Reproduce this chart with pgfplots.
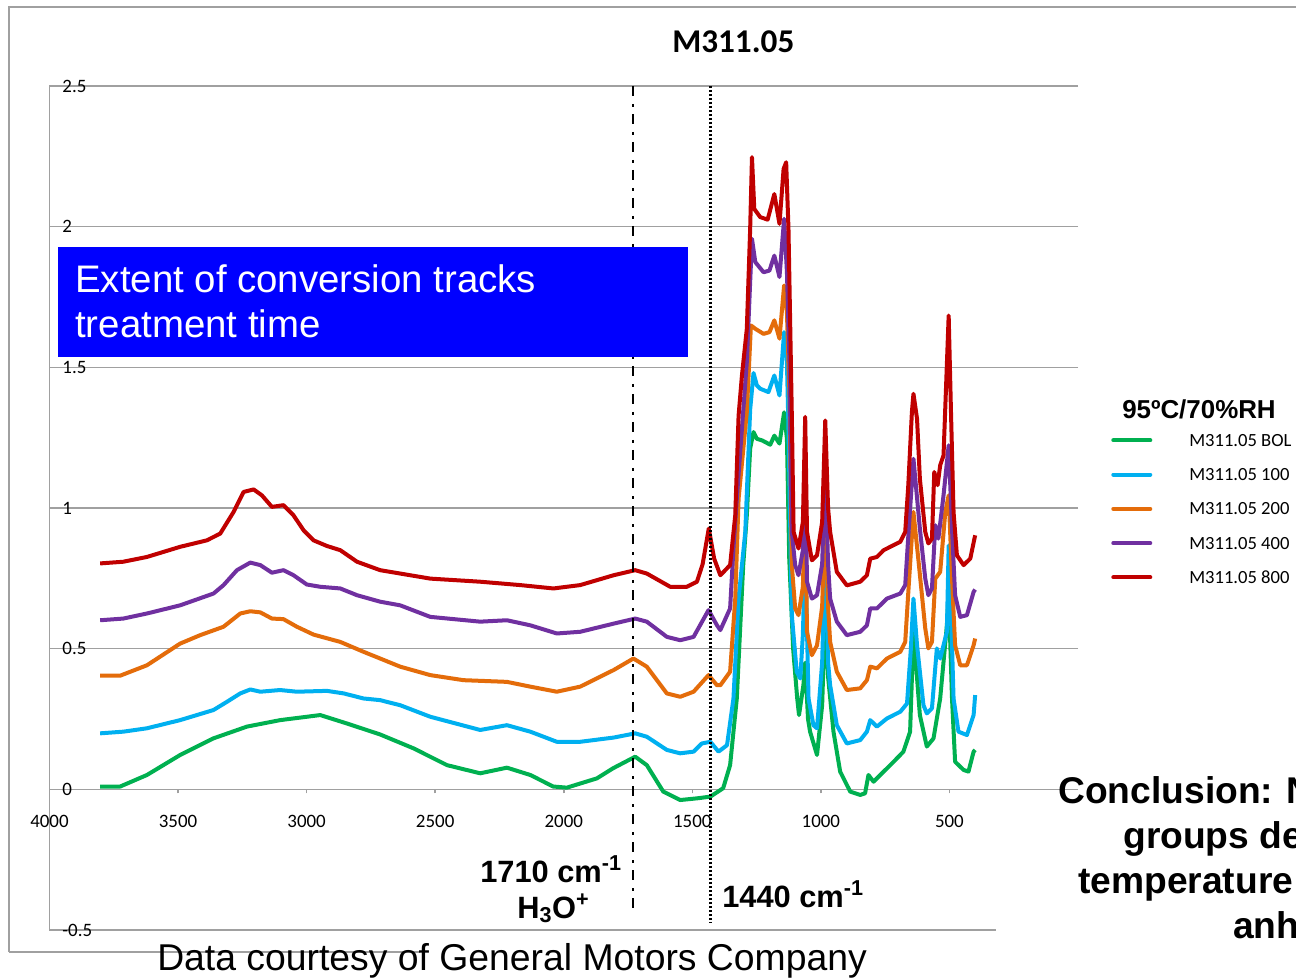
\documentclass[border=0pt]{standalone}
\usepackage{fontspec}
\setmainfont{Liberation Sans}
\newfontfamily\calibri{Carlito}
\usepackage{pgfplots}
\pgfplotsset{compat=1.18}
\definecolor{cgreen}{RGB}{0,176,80}
\definecolor{cblue}{RGB}{0,176,240}
\definecolor{corange}{RGB}{228,108,10}
\definecolor{cpurple}{RGB}{112,48,160}
\definecolor{cred}{RGB}{192,0,0}
\definecolor{gridgray}{RGB}{160,160,160}
\begin{document}
\begin{tikzpicture}[x=0.75bp,y=0.75bp]
\clip (0,0) rectangle (1296,979);
\fill[white] (0,0) rectangle (1296,979);
\draw[gridgray, line width=1.2bp] (9,27) -- (9,972) -- (1300,972);
\draw[gridgray, line width=1.2bp] (9,27) -- (420,27);
\begin{axis}[
  at={(37.125bp,36.75bp)}, anchor=south west,
  width=771.375bp, height=633bp, scale only axis,
  xmin=0, xmax=4000, x dir=reverse, ymin=-0.5, ymax=2.5,
  axis x line*=middle, axis y line*=left,
  hide obscured x ticks=false, hide obscured y ticks=false,
  axis line style={gridgray, line width=1.2bp},
  ymajorgrids, grid style={gridgray, line width=1.2bp},
  xtick={500,1000,1500,2000,2500,3000,3500,4000},
  xticklabels={500,1000,1500,2000,2500,3000,3500,4000},
  ytick={-0.5,0,0.5,1,1.5,2,2.5},
  yticklabels={-0.5,0,0.5,1,1.5,2,2.5},
  tick align=outside, major tick length=3bp,
  x tick style={gridgray, line width=1.2bp},
  y tick style={draw=none},
  ticklabel style={font=\calibri\fontsize{14.25}{16}\selectfont, text=black, inner sep=0pt},
  xticklabel style={anchor=center, yshift=-21bp},
  yticklabel style={anchor=west, xshift=12.5bp},
  legend style={at={(1.0321,0.6008)}, anchor=north west, draw=none, fill=none,
    inner sep=0pt, row sep=0pt, column sep=27.75bp,
    font=\calibri\fontsize{14}{16}\selectfont,
    nodes={inner sep=0pt, text height=17.35bp, text depth=8.35bp}},
  legend cell align=left,
  legend image code/.code={\draw[#1, line cap=round] (1.5bp,0bp) -- (29.25bp,0bp);},
  every axis plot/.append style={line width=3bp, line join=round},
]
\addplot[cgreen] coordinates {
(3803,0.010) (3725,0.010) (3621,0.051) (3492,0.122) (3363,0.181) (3232,0.223)
(3103,0.246) (2947,0.264) (2843,0.234) (2714,0.195) (2585,0.146) (2454,0.086)
(2325,0.057) (2221,0.077) (2130,0.051) (2041,0.010) (1988,0.006) (1871,0.039)
(1808,0.075) (1722,0.116) (1677,0.086) (1613,-0.008) (1547,-0.038) (1482,-0.032)
(1430,-0.026) (1380,0.004) (1353,0.086) (1327,0.323) (1302,0.797) (1288,0.974)
(1275,1.211) (1262,1.27) (1249,1.246) (1228,1.240) (1197,1.225) (1181,1.257)
(1161,1.229) (1143,1.34) (1132,1.246) (1123,0.820) (1108,0.501) (1092,0.323)
(1085,0.264) (1068,0.370) (1061,0.45) (1050,0.25) (1042,0.205) (1015,0.122)
(995,0.30) (983,0.65) (972,0.40) (951,0.205) (925,0.063) (886,-0.008)
(847,-0.020) (828,-0.014) (815,0.051) (795,0.027) (769,0.051) (717,0.098)
(679,0.134) (653,0.205) (640,0.56) (633,0.48) (615,0.264) (588,0.152)
(562,0.181) (536,0.323) (510,0.583) (503,0.70) (490,0.323) (478,0.098)
(445,0.069) (426,0.063) (406,0.134) (400,0.140)};
\addlegendentry{M311.05 BOL}
\addplot[cblue] coordinates {
(3803,0.199) (3713,0.205) (3621,0.217) (3492,0.246) (3362,0.282) (3310,0.311)
(3258,0.341) (3219,0.355) (3180,0.347) (3103,0.353) (3038,0.347) (2921,0.350)
(2856,0.341) (2779,0.323) (2714,0.317) (2636,0.299) (2519,0.258) (2325,0.211)
(2221,0.228) (2130,0.205) (2027,0.169) (1936,0.169) (1806,0.184) (1722,0.199)
(1677,0.187) (1599,0.140) (1547,0.128) (1495,0.134) (1463,0.163) (1430,0.169)
(1398,0.134) (1365,0.157) (1340,0.323) (1320,0.678) (1294,0.915) (1275,1.35)
(1262,1.48) (1249,1.436) (1236,1.424) (1204,1.412) (1181,1.471) (1161,1.400)
(1143,1.625) (1132,1.519) (1126,1.282) (1113,0.619) (1094,0.418) (1080,0.394)
(1070,0.55) (1061,0.85) (1048,0.323) (1029,0.228) (1015,0.217) (995,0.45)
(983,0.85) (972,0.45) (964,0.370) (938,0.228) (899,0.163) (847,0.175)
(821,0.205) (808,0.246) (782,0.223) (743,0.252) (691,0.276) (665,0.305)
(650,0.50) (640,0.678) (626,0.512) (601,0.299) (588,0.270) (568,0.288)
(549,0.501) (536,0.465) (510,0.560) (503,0.867) (490,0.512) (484,0.323)
(465,0.205) (432,0.193) (406,0.264) (400,0.335)};
\addlegendentry{M311.05 100}
\addplot[corange] coordinates {
(3803,0.404) (3725,0.404) (3621,0.441) (3492,0.518) (3414,0.548) (3323,0.578)
(3258,0.625) (3219,0.633) (3180,0.629) (3135,0.607) (3090,0.605) (3038,0.578)
(2973,0.550) (2869,0.524) (2779,0.489) (2714,0.465) (2636,0.436) (2519,0.406)
(2390,0.388) (2221,0.382) (2130,0.365) (2027,0.347) (1936,0.365) (1806,0.424)
(1729,0.465) (1677,0.436) (1599,0.341) (1547,0.329) (1495,0.347) (1437,0.406)
(1404,0.370) (1391,0.370) (1353,0.418) (1333,0.678) (1320,1.033) (1288,1.341)
(1272,1.649) (1255,1.637) (1223,1.619) (1200,1.625) (1181,1.667) (1161,1.602)
(1143,1.791) (1132,1.696) (1122,1.400) (1113,0.797) (1100,0.643) (1087,0.619)
(1070,0.72) (1061,1.02) (1054,0.560) (1035,0.477) (1015,0.512) (995,0.65)
(983,1.00) (972,0.65) (964,0.524) (938,0.418) (899,0.353) (847,0.359)
(821,0.388) (808,0.436) (782,0.430) (743,0.465) (691,0.489) (672,0.524)
(660,0.70) (640,0.986) (620,0.809) (594,0.572) (582,0.501) (568,0.524)
(555,0.749) (536,0.773) (516,0.986) (503,1.045) (490,0.749) (478,0.512)
(458,0.441) (432,0.441) (406,0.512) (400,0.536)};
\addlegendentry{M311.05 200}
\addplot[cpurple] coordinates {
(3803,0.601) (3713,0.607) (3621,0.625) (3492,0.654) (3362,0.696) (3323,0.726)
(3271,0.779) (3219,0.806) (3180,0.797) (3135,0.770) (3090,0.779) (3051,0.761)
(2999,0.728) (2947,0.720) (2869,0.714) (2804,0.690) (2714,0.667) (2636,0.654)
(2519,0.613) (2325,0.596) (2221,0.601) (2130,0.583) (2027,0.554) (1936,0.560)
(1806,0.589) (1722,0.607) (1677,0.596) (1599,0.542) (1547,0.530) (1495,0.542)
(1437,0.637) (1404,0.583) (1391,0.566) (1353,0.643) (1340,0.856) (1327,1.033)
(1288,1.519) (1268,1.957) (1255,1.874) (1223,1.838) (1200,1.844) (1181,1.897)
(1161,1.821) (1143,2.028) (1132,1.838) (1122,1.519) (1113,0.915) (1100,0.797)
(1087,0.761) (1070,0.85) (1061,1.17) (1054,0.738) (1035,0.678) (1015,0.690)
(995,0.80) (983,1.15) (972,0.80) (964,0.678) (938,0.596) (899,0.548)
(847,0.560) (821,0.583) (808,0.643) (782,0.643) (743,0.678) (691,0.696)
(672,0.726) (660,0.90) (640,1.175) (615,0.927) (594,0.749) (582,0.690)
(568,0.714) (555,0.939) (543,0.891) (523,1.045) (503,1.223) (490,0.927)
(478,0.690) (458,0.613) (432,0.619) (406,0.702) (400,0.71)};
\addlegendentry{M311.05 400}
\addplot[cred] coordinates {
(3803,0.803) (3713,0.809) (3621,0.826) (3492,0.862) (3388,0.885) (3336,0.909)
(3284,0.986) (3245,1.057) (3206,1.066) (3174,1.045) (3135,1.004) (3090,1.010)
(3051,0.974) (3012,0.921) (2973,0.885) (2921,0.865) (2869,0.850) (2804,0.809)
(2714,0.779) (2636,0.767) (2519,0.749) (2325,0.738) (2169,0.726) (2040,0.714)
(1936,0.726) (1806,0.761) (1722,0.779) (1677,0.767) (1586,0.720) (1521,0.720)
(1482,0.738) (1460,0.80) (1436,0.927) (1415,0.82) (1391,0.761) (1353,0.797)
(1333,0.974) (1320,1.329) (1307,1.471) (1288,1.637) (1275,1.992) (1268,2.247)
(1259,2.063) (1236,2.034) (1207,2.025) (1181,2.116) (1161,2.010) (1145,2.205)
(1135,2.229) (1126,1.992) (1119,1.637) (1113,1.329) (1106,0.915) (1087,0.856)
(1070,0.95) (1061,1.324) (1054,0.915) (1035,0.814) (1015,0.832) (995,0.95)
(983,1.311) (972,1.0) (964,0.915) (938,0.773) (899,0.725) (847,0.738)
(821,0.761) (808,0.820) (782,0.826) (756,0.850) (717,0.868) (691,0.880)
(672,0.915) (660,1.081) (646,1.341) (640,1.406) (626,1.317) (615,1.104)
(594,0.915) (582,0.874) (568,0.891) (559,1.128) (546,1.081) (536,1.152)
(523,1.187) (512,1.460) (503,1.684) (494,1.341) (484,0.986) (471,0.832)
(445,0.797) (419,0.820) (400,0.903)};
\addlegendentry{M311.05 800}
\addplot[forget plot, black, line width=1.9bp, line cap=butt, dash pattern=on 7.5bp off 6bp on 2.25bp off 5.25bp] coordinates {(1731,2.5) (1731,-0.447)};
\addplot[forget plot, black, line width=1.9bp, line cap=butt, dash pattern=on 1.5bp off 1.5bp] coordinates {(1430,2.5) (1430,-0.476)};
\end{axis}
\fill[white] (996,44) rectangle (1085,54);
\fill[blue] (58,622) rectangle (688,732);
\node[anchor=base west, inner sep=0pt, text=white, font=\fontsize{28.9}{34}\selectfont] at (75,686) {Extent of conversion tracks};
\node[anchor=base west, inner sep=0pt, text=white, font=\fontsize{28.9}{34}\selectfont] at (75,641) {treatment time};
\node[anchor=base west, inner sep=0pt, font=\calibri\bfseries\fontsize{25}{29}\selectfont] at (672,926) {M311.05};
\node[anchor=base west, inner sep=0pt, font=\bfseries\fontsize{19.5}{23}\selectfont] at (1122,561) {95ºC/70\%RH};
\node[anchor=base west, inner sep=0pt, font=\bfseries\fontsize{23.2}{27}\selectfont] at (480,97) {1710 cm\textsuperscript{-1}};
\node[anchor=base west, inner sep=0pt, font=\bfseries\fontsize{23.2}{27}\selectfont] at (517,61) {H\textsubscript{3}O\textsuperscript{+}};
\node[anchor=base west, inner sep=0pt, font=\bfseries\fontsize{23.2}{27}\selectfont] at (722,72) {1440 cm\textsuperscript{-1}};
\node[anchor=base west, inner sep=0pt, font=\fontsize{28.1}{33}\selectfont] at (157,9) {Data courtesy of General Motors Company};
\node[anchor=base west, inner sep=0pt, font=\bfseries\fontsize{28}{33}\selectfont] at (1058,176) {Conclusion: N};
\node[anchor=base west, inner sep=0pt, font=\bfseries\fontsize{28}{33}\selectfont] at (1123,131) {groups de};
\node[anchor=base west, inner sep=0pt, font=\bfseries\fontsize{28}{33}\selectfont] at (1078,86) {temperature};
\node[anchor=base west, inner sep=0pt, font=\bfseries\fontsize{28}{33}\selectfont] at (1233,41) {anh};
\end{tikzpicture}
\end{document}
